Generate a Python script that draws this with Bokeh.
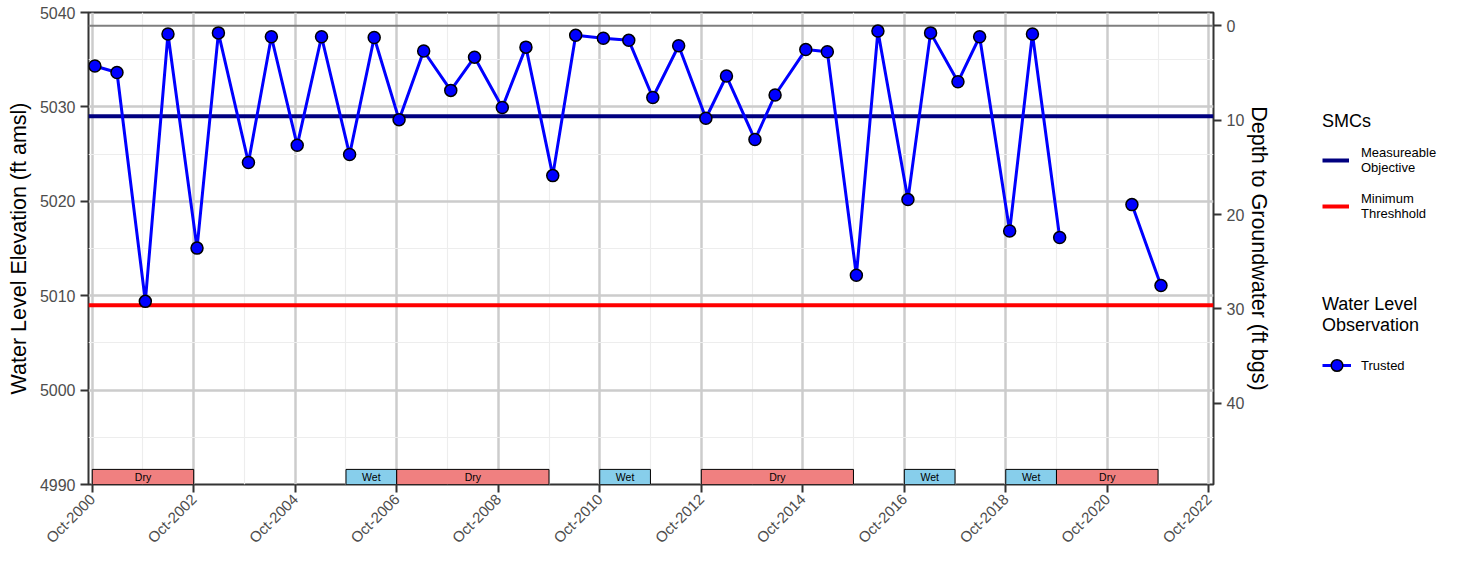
import math
import numpy as np
import pandas as pd
from bokeh.plotting import figure
from bokeh.layouts import row
from bokeh.models import (Range1d, LinearAxis, FixedTicker, DatetimeTickFormatter,
                          Legend, LegendItem, ColumnDataSource)
from bokeh.core.properties import value
from bokeh.embed import file_html
from bokeh.resources import INLINE

# ---------------- data ----------------
obs_dates = ["2000-10-20", "2001-03-28", "2001-10-18", "2002-03-30", "2002-10-25",
             "2003-03-28", "2003-10-30", "2004-04-12", "2004-10-15", "2005-04-08",
             "2005-10-27", "2006-04-22", "2006-10-18", "2007-04-13", "2007-10-25",
             "2008-04-13", "2008-10-30", "2009-04-18", "2009-10-28", "2010-04-11",
             "2010-10-27", "2011-04-28", "2011-10-18", "2012-04-21", "2012-11-03",
             "2013-03-31", "2013-10-22", "2014-03-16", "2014-10-23", "2015-03-27",
             "2015-10-22", "2016-03-25", "2016-10-27", "2017-04-08", "2017-10-22",
             "2018-03-27", "2018-10-29", "2019-04-11", "2019-10-24", "2020-10-15",
             "2021-03-27", "2021-10-22"]
obs_elev = [5034.33, 5033.65, 5009.40, 5037.73, 5015.04,
            5037.84, 5024.11, 5037.43, 5025.93, 5037.43,
            5024.95, 5037.35, 5028.65, 5035.92, 5031.75,
            5035.27, 5029.94, 5036.33, 5022.72, 5037.58,
            5037.28, 5037.05, 5031.00, 5036.48, 5028.80,
            5033.27, 5026.54, 5031.26, 5036.07, 5035.84,
            5012.16, 5038.03, 5020.18, 5037.84, 5032.66,
            5037.43, 5016.85, 5037.73, 5016.17, np.nan,
            5019.65, 5011.07]

wy_start = ["2000-10-01", "2005-10-01", "2006-10-01", "2010-10-01",
            "2012-10-01", "2016-10-01", "2018-10-01", "2019-10-01"]
wy_end = ["2002-10-01", "2006-10-01", "2009-10-01", "2011-10-01",
          "2015-10-01", "2017-10-01", "2019-10-01", "2021-10-01"]
wy_type = ["Dry", "Wet", "Dry", "Wet", "Dry", "Wet", "Wet", "Dry"]
wy_colors = {"Dry": "#F08080", "Wet": "#87CEEB"}

MEASURABLE_OBJECTIVE = 5029.0
MINIMUM_THRESHOLD = 5009.0
GROUND_SURFACE = 5038.6

y_min, y_max = 4990, 5040
y_ticks = [4990, 5000, 5010, 5020, 5030, 5040]
y_minor = [4995, 5005, 5015, 5025, 5035]
depth_ticks = [0, 10, 20, 30, 40]
x_tick_years = list(range(2000, 2023, 2))
x_minor_years = list(range(2001, 2023, 2))
bar_top = 4991.6

FONT = "Liberation Sans"


def ms(s):
    return pd.Timestamp(s).value // 10**6


x_start = ms(pd.Timestamp("2000-10-01") - pd.Timedelta(days=27))
x_end = ms(pd.Timestamp("2022-10-01") + pd.Timedelta(days=34))

# ---------------- main figure ----------------
p = figure(width=1318, height=555, x_axis_type="datetime",
           x_range=Range1d(x_start, x_end), y_range=Range1d(y_min, y_max),
           output_backend="svg", toolbar_location=None,
           min_border_left=88, min_border_right=105, min_border_top=12,
           min_border_bottom=69)
p.background_fill_color = "white"
p.border_fill_color = "white"
p.outline_line_color = "#333333"
p.outline_line_width = 2

x_ticker = FixedTicker(ticks=[ms(f"{y}-10-01") for y in x_tick_years],
                       minor_ticks=[ms(f"{y}-10-01") for y in x_minor_years])
y_ticker = FixedTicker(ticks=y_ticks, minor_ticks=y_minor)
p.xaxis.ticker = x_ticker
p.yaxis.ticker = y_ticker
p.xgrid.ticker = x_ticker
p.ygrid.ticker = y_ticker
fmt = "%b-%Y"
p.xaxis.formatter = DatetimeTickFormatter(years=fmt, months=fmt, days=fmt, hours=fmt,
                                          hourmin=fmt, minutes=fmt, minsec=fmt,
                                          seconds=fmt, milliseconds=fmt,
                                          microseconds=fmt)
p.xaxis.major_label_orientation = math.pi / 4

for g in (p.xgrid, p.ygrid):
    g.grid_line_color = "#CCCCCC"
    g.grid_line_width = 2.5
    g.minor_grid_line_color = "#EDEDED"
    g.minor_grid_line_width = 1.2

p.yaxis.axis_label = "Water Level Elevation (ft amsl)"

p.extra_y_ranges = {"depth": Range1d(start=GROUND_SURFACE - y_min, end=GROUND_SURFACE - y_max)}
right_axis = LinearAxis(y_range_name="depth", ticker=FixedTicker(ticks=depth_ticks),
                        axis_label="Depth to Groundwater (ft bgs)")
p.add_layout(right_axis, "right")

for ax in (p.xaxis[0], p.yaxis[0], right_axis):
    ax.axis_line_color = None
    ax.major_tick_line_color = "#333333"
    ax.major_tick_line_width = 2
    ax.major_tick_out = 8
    ax.major_tick_in = 0
    ax.minor_tick_line_color = None
    ax.major_label_text_font = FONT
    ax.major_label_text_font_size = "16px"
    ax.major_label_text_color = "#4D4D4D"
    ax.major_label_standoff = 5
    ax.axis_label_text_font = FONT
    ax.axis_label_text_font_size = "21.5px"
    ax.axis_label_text_font_style = "normal"
    ax.axis_label_text_color = "black"
    ax.axis_label_standoff = 6
p.xaxis.major_label_text_font_size = "15px"
p.xaxis.major_label_standoff = 4
right_axis.axis_label_standoff = 0

# ---------------- glyphs ----------------
p.line(x=[x_start, x_end], y=[GROUND_SURFACE, GROUND_SURFACE],
       line_color="#7F7F7F", line_width=2)
p.line(x=[x_start, x_end], y=[MEASURABLE_OBJECTIVE] * 2,
       line_color="#000080", line_width=4)
p.line(x=[x_start, x_end], y=[MINIMUM_THRESHOLD] * 2,
       line_color="#FF0000", line_width=4)

bars = ColumnDataSource(dict(
    left=pd.to_datetime(wy_start), right=pd.to_datetime(wy_end),
    mid=pd.to_datetime(wy_start) + (pd.to_datetime(wy_end) - pd.to_datetime(wy_start)) / 2,
    label=wy_type, color=[wy_colors[t] for t in wy_type]))
p.quad(left="left", right="right", bottom=y_min, top=bar_top, source=bars,
       fill_color="color", line_color="black", line_width=1)
p.text(x="mid", y=(y_min + bar_top) / 2, text="label", source=bars,
       text_font=value(FONT), text_font_size="10.5px", text_align="center",
       text_baseline="middle", text_color="black")

src = ColumnDataSource(dict(date=pd.to_datetime(obs_dates), elev=obs_elev))
p.line("date", "elev", source=src, line_color="#0000FF", line_width=3)
p.scatter("date", "elev", source=src, size=12, fill_color="#0000FF",
          line_color="black", line_width=1.5)

# ---------------- legend panel ----------------
lp = figure(width=132, height=555, x_range=Range1d(0, 1), y_range=Range1d(0, 1),
            output_backend="svg", toolbar_location=None,
            x_axis_location=None, y_axis_location=None,
            min_border_left=0, min_border_right=0, min_border_top=0,
            min_border_bottom=0)
lp.grid.visible = False
lp.outline_line_color = None
lp.background_fill_color = "white"
lp.border_fill_color = "white"

nan = [np.nan]
mo_proxy = lp.line(x=nan, y=nan, line_color="#000080", line_width=4)
mt_proxy = lp.line(x=nan, y=nan, line_color="#FF0000", line_width=4)
obs_line_proxy = lp.line(x=nan, y=nan, line_color="#0000FF", line_width=3)
obs_pt_proxy = lp.scatter(x=nan, y=nan, size=12, fill_color="#0000FF",
                          line_color="black", line_width=1.5)


def style_legend(lg):
    lg.title_text_font = FONT
    lg.title_text_font_size = "18px"
    lg.title_text_font_style = "normal"
    lg.title_text_color = "black"
    lg.title_text_line_height = 1.1
    lg.label_text_font = FONT
    lg.label_text_font_size = "13px"
    lg.label_text_color = "black"
    lg.border_line_color = None
    lg.background_fill_alpha = 0
    lg.padding = 0
    lg.margin = 0
    lg.glyph_width = 27
    lg.glyph_height = 20
    lg.label_standoff = 12
    lg.spacing = 16
    lg.title_standoff = 13
    lg.click_policy = "none"


leg1 = Legend(items=[LegendItem(label="Measureable\nObjective", renderers=[mo_proxy]),
                     LegendItem(label="Minimum\nThreshhold", renderers=[mt_proxy])],
              title="SMCs", location=(4, 263))
style_legend(leg1)
leg2 = Legend(items=[LegendItem(label="Trusted", renderers=[obs_line_proxy, obs_pt_proxy])],
              title="Water Level\nObservation", location=(4, 104))
style_legend(leg2)
leg2.glyph_width = 29
leg2.glyph_height = 30
leg2.label_standoff = 10
leg2.title_standoff = 14
lp.add_layout(leg1)
lp.add_layout(leg2)

layout = row(p, lp, spacing=0)
open("out.html", "w").write(file_html(layout, INLINE))
